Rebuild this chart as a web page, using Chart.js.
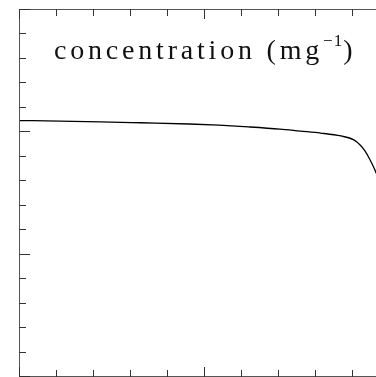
<!DOCTYPE html>
<html>
<head>
<meta charset="utf-8">
<script src="https://cdn.jsdelivr.net/npm/chart.js@4"></script>
<style>
  html, body { margin: 0; padding: 0; background: #fff; overflow: hidden; }
  #wrap { position: relative; width: 400px; height: 377px; }
  #label {
    position: absolute; left: 54px; top: 30px;
    font-family: "Liberation Serif", serif; font-size: 28px; line-height: 28px;
    letter-spacing: 3.8px; color: #111; white-space: nowrap;
  }
  #label sup { font-size: 17px; position: relative; top: -3px; letter-spacing: 1px; }
</style>
</head>
<body>
<div id="wrap">
  <canvas id="myChart"></canvas>
  <div id="label">concentration (mg<sup>−1</sup>)</div>
</div>
<script>
// curve
const xValues = [0, 1.1, 2.2, 3.3, 4.6, 5.4, 6.2, 7.05, 7.6, 8.15, 8.7, 9.05, 9.22, 9.35, 9.49, 9.62, 9.75];
const concentration = [1.044, 1.042, 1.039, 1.035, 1.030, 1.025, 1.018, 1.009, 1.001, 0.993, 0.981, 0.965, 0.944, 0.920, 0.883, 0.842, 0.79];

// tick positions
const xTicks = [0, 1, 2, 3, 4, 5, 6, 7, 8, 9, 10];
const xMajor = [0, 5, 10];
const yTicks = [0, 0.1, 0.2, 0.3, 0.4, 0.5, 0.6, 0.7, 0.8, 0.9, 1.0, 1.1, 1.2, 1.3, 1.4, 1.5];
const yMajor = [0, 0.5, 1.0, 1.5];

const frame = {
  id: 'frame',
  afterDraw(chart) {
    const ctx = chart.ctx;
    const a = chart.chartArea;
    const xs = chart.scales.x, ys = chart.scales.y;
    ctx.save();
    ctx.strokeStyle = '#555';
    ctx.lineWidth = 1;
    ctx.beginPath();
    ctx.moveTo(a.right + 20, a.top + 0.5);
    ctx.lineTo(a.left + 0.5, a.top + 0.5);
    ctx.lineTo(a.left + 0.5, a.bottom + 0.5);
    ctx.lineTo(a.right + 20, a.bottom + 0.5);
    ctx.stroke();

    ctx.strokeStyle = '#333';
    ctx.beginPath();
    xTicks.forEach(v => {
      const px = Math.round(xs.getPixelForValue(v)) + 0.5;
      const len = xMajor.includes(v) ? 10 : 7;
      ctx.moveTo(px, a.top);
      ctx.lineTo(px, a.top + len);
      ctx.moveTo(px, a.bottom + 1);
      ctx.lineTo(px, a.bottom + 1 - len);
    });
    yTicks.forEach(v => {
      const py = Math.round(ys.getPixelForValue(v)) + 0.5;
      const len = yMajor.includes(v) ? 11 : 7;
      ctx.moveTo(a.left, py);
      ctx.lineTo(a.left + len, py);
    });
    ctx.stroke();
    ctx.restore();
  }
};

const ctx = document.getElementById('myChart').getContext('2d');
new Chart(ctx, {
  type: 'line',
  data: {
    datasets: [{
      data: xValues.map((x, i) => ({x: x, y: concentration[i]})),
      borderColor: '#000',
      borderWidth: 1.3,
      pointRadius: 0,
      fill: false,
      cubicInterpolationMode: 'monotone'
    }]
  },
  options: {
    responsive: true,
    maintainAspectRatio: false,
    animation: false,
    layout: { padding: { left: 19, top: 9, right: 11, bottom: 1 } },
    scales: {
      x: { type: 'linear', min: 0, max: 10, display: false },
      y: { type: 'linear', min: 0, max: 1.5, display: false }
    },
    plugins: {
      legend: { display: false },
      tooltip: { enabled: false }
    }
  },
  plugins: [frame]
});
</script>
</body>
</html>
